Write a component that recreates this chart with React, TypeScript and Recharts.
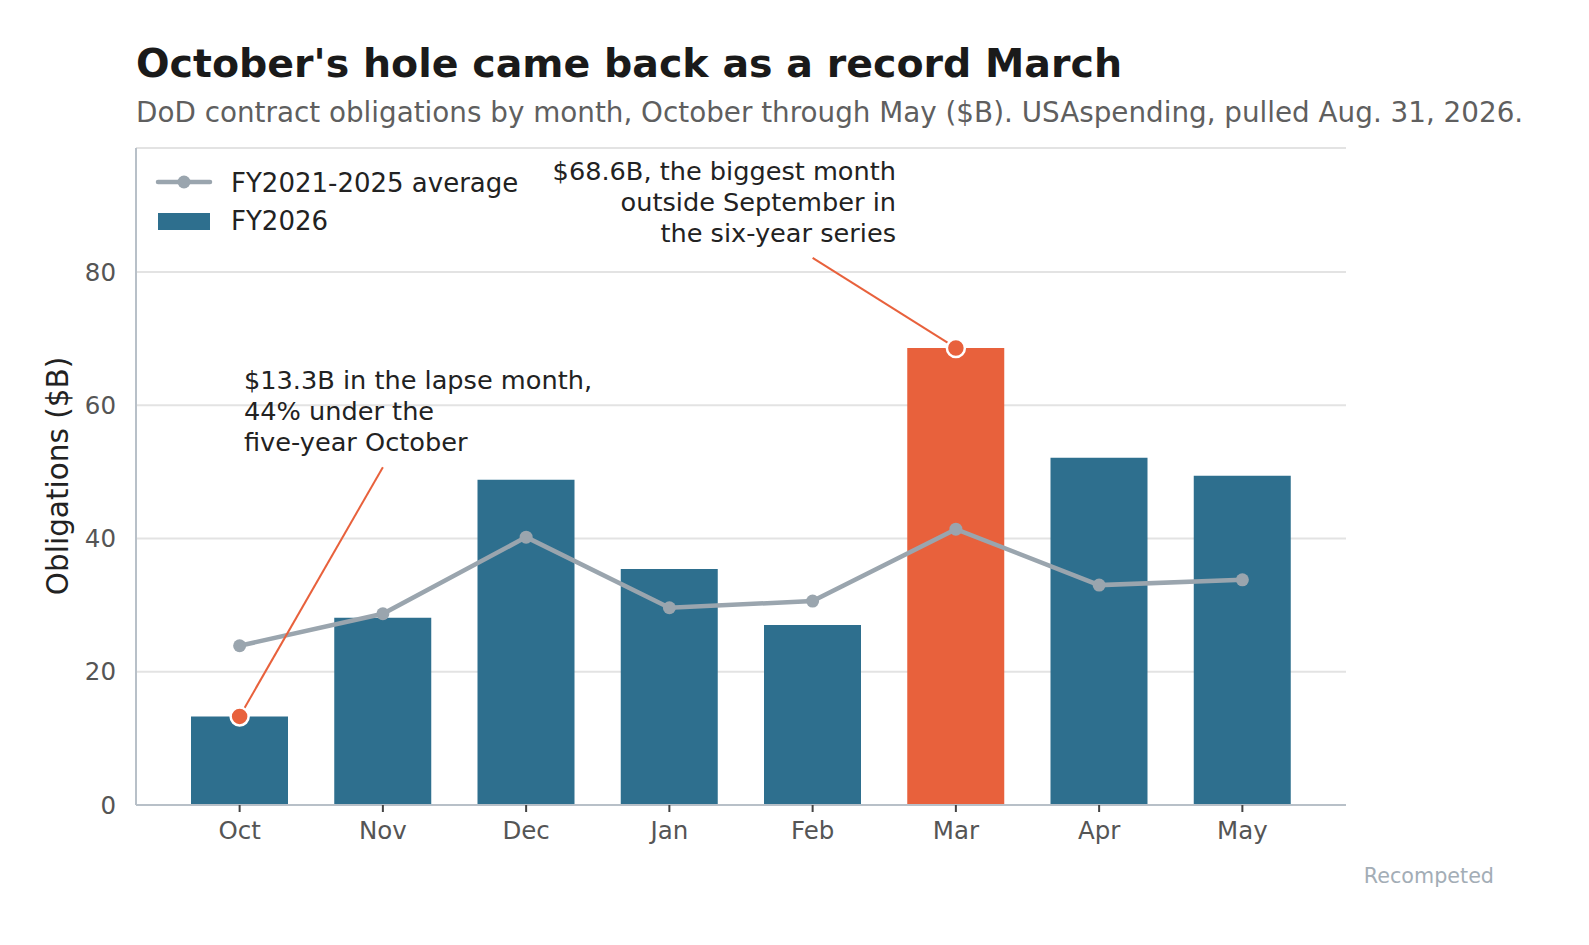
import {
  ComposedChart,
  Bar,
  Line,
  Cell,
  XAxis,
  YAxis,
  CartesianGrid,
  ReferenceDot,
  ReferenceLine,
} from 'recharts';

const months = ['Oct', 'Nov', 'Dec', 'Jan', 'Feb', 'Mar', 'Apr', 'May'];
const fy2026 = [13.3, 28.1, 48.8, 35.4, 27.0, 68.6, 52.1, 49.4];
const avg2125 = [23.9, 28.7, 40.2, 29.6, 30.6, 41.4, 33.0, 33.8];
const yTicks = [0, 20, 40, 60, 80];
const highlighted = ['Oct', 'Mar'];

const data = months.map((m, i) => ({ month: m, fy2026: fy2026[i], avg: avg2125[i] }));

const FONT = '"DejaVu Sans", Verdana, sans-serif';
const BLUE = '#2e6f8e';
const ORANGE = '#e8613c';
const GREY = '#9aa5ae';

const App = () => {
  return (
    <div style={{ position: 'absolute', left: 0, top: 0, width: 1589, height: 945, background: '#fff', fontFamily: FONT }}>
      <div style={{ position: 'absolute', left: 136, top: 40, fontSize: 39.5, fontWeight: 700, color: '#1a1a1a', whiteSpace: 'nowrap' }}>
        October's hole came back as a record March
      </div>
      <div style={{ position: 'absolute', left: 136, top: 96, fontSize: 27.8, color: '#5f5f5f', whiteSpace: 'nowrap' }}>
        DoD contract obligations by month, October through May ($B). USAspending, pulled Aug. 31, 2026.
      </div>

      <ComposedChart
        width={1589}
        height={945}
        data={data}
        margin={{ top: 148, right: 243, bottom: 100, left: 76 }}
        style={{ position: 'absolute', left: 0, top: 0 }}
      >
        <CartesianGrid vertical={false} stroke="#e3e3e3" strokeWidth={2} />
        <XAxis
          dataKey="month"
          padding={{ left: 32, right: 32 }}
          height={40}
          tickSize={7}
          tickMargin={10}
          tick={{ fontSize: 24.5, fill: '#555', fontFamily: FONT }}
          tickLine={{ stroke: '#444', strokeWidth: 2 }}
          axisLine={{ stroke: '#b8c0c8', strokeWidth: 2 }}
        />
        <YAxis
          domain={[0, 98.6]}
          ticks={yTicks}
          width={60}
          tickSize={0}
          tickMargin={20}
          tickLine={false}
          tick={{ fontSize: 24.5, fill: '#555', fontFamily: FONT }}
          axisLine={{ stroke: '#b8c0c8', strokeWidth: 2 }}
        />
        <Bar dataKey="fy2026" barSize={97} isAnimationActive={false}>
          {data.map((d) => (
            <Cell key={d.month} fill={d.month === 'Mar' ? ORANGE : BLUE} />
          ))}
        </Bar>
        <Line
          dataKey="avg"
          stroke={GREY}
          strokeWidth={4.5}
          dot={{ r: 6.5, fill: GREY, stroke: GREY, strokeWidth: 0 }}
          isAnimationActive={false}
        />
        <ReferenceLine
          segment={[{ x: 'Nov', y: 50.7 }, { x: 'Oct', y: 13.3 }]}
          stroke={ORANGE}
          strokeWidth={2}
        />
        <ReferenceLine
          segment={[{ x: 'Feb', y: 82.1 }, { x: 'Mar', y: 68.6 }]}
          stroke={ORANGE}
          strokeWidth={2}
        />
        {highlighted.map((m) => (
          <ReferenceDot
            key={m}
            x={m}
            y={fy2026[months.indexOf(m)]}
            r={9}
            fill={ORANGE}
            stroke="#fff"
            strokeWidth={2.5}
          />
        ))}
      </ComposedChart>

      <div
        style={{
          position: 'absolute',
          left: 58,
          top: 476,
          transform: 'translate(-50%, -50%) rotate(-90deg)',
          fontSize: 29.5,
          color: '#222',
          whiteSpace: 'nowrap',
        }}
      >
        Obligations ($B)
      </div>

      {/* legend */}
      <svg style={{ position: 'absolute', left: 150, top: 168 }} width={70} height={70}>
        <line x1={8} y1={14} x2={60} y2={14} stroke={GREY} strokeWidth={4.5} strokeLinecap="round" />
        <circle cx={34} cy={14} r={6.5} fill={GREY} />
        <rect x={8} y={45} width={52} height={17} fill={BLUE} />
      </svg>
      <div style={{ position: 'absolute', left: 231, top: 168, fontSize: 26, color: '#222', whiteSpace: 'nowrap' }}>
        FY2021-2025 average
      </div>
      <div style={{ position: 'absolute', left: 231, top: 206, fontSize: 26, color: '#222', whiteSpace: 'nowrap' }}>
        FY2026
      </div>

      {/* annotations */}
      <div style={{ position: 'absolute', right: 1589 - 896, top: 156, fontSize: 25.6, lineHeight: '31px', color: '#222', textAlign: 'right', whiteSpace: 'nowrap' }}>
        $68.6B, the biggest month
        <br />
        outside September in
        <br />
        the six-year series
      </div>
      <div style={{ position: 'absolute', left: 244, top: 365, fontSize: 25.6, lineHeight: '31px', color: '#222', whiteSpace: 'nowrap' }}>
        $13.3B in the lapse month,
        <br />
        44% under the
        <br />
        five-year October
      </div>

      <div style={{ position: 'absolute', right: 1589 - 1494, top: 864, fontSize: 20.7, color: '#a3adb6', whiteSpace: 'nowrap' }}>
        Recompeted
      </div>
    </div>
  );
};

export default App;
